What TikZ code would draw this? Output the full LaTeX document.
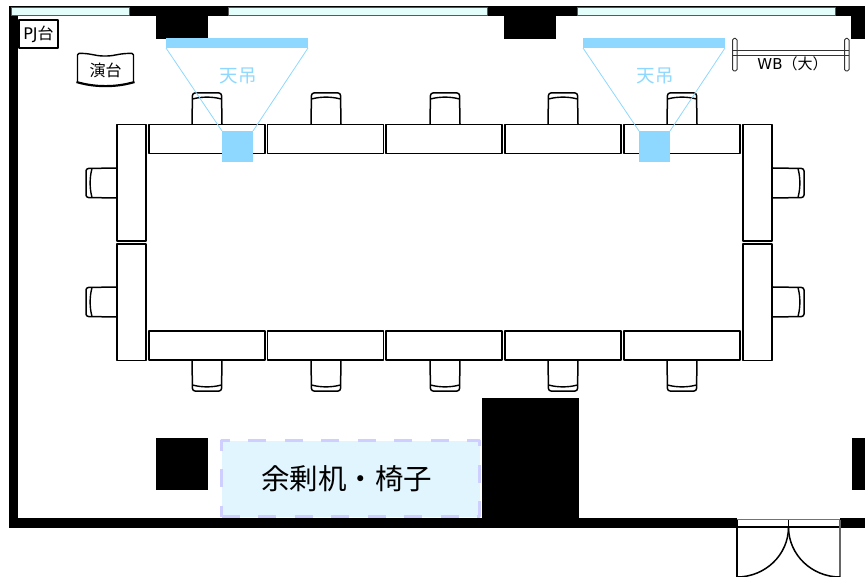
\documentclass[tikz,border=0pt]{standalone}
\usepackage{fontspec}
\setmainfont{DejaVu Sans}
\newfontfamily\cjk{Noto Sans CJK JP}
\definecolor{pjblue}{HTML}{8ED8FF}
\definecolor{glass}{HTML}{E4FFFB}
\definecolor{sparefill}{HTML}{E1F5FE}
\definecolor{sparedash}{HTML}{CFCFFF}

\begin{document}
\begin{tikzpicture}[x=1pt, y=-1pt, line join=round,
  wall/.style = {fill=black, draw=none},
  glasspane/.style = {fill=glass, draw=black!65, line width=0.8pt},
  desk/.style = {draw, fill=white, line width=1.5pt},
  beam/.style = {fill=pjblue, draw=none},
  pjlabel/.style = {text=pjblue, font=\cjk\fontsize{18.5}{18.5}\selectfont},
  chair/.pic = {
    \draw[fill=white, line width=1.5pt, rounded corners=2.5pt]
      (-15,0) -- (-14.5,-31) -- (14.5,-31) -- (15,0);
    \draw[line width=1.4pt] (-14.5,-25) .. controls (-5,-27.5) and (5,-27.5) .. (14.5,-25);
  }]
  \useasboundingbox (0,0) rectangle (865,577);

  % walls and columns
  \fill[wall] (9,6) rectangle (865,16);
  \fill[wall] (9,6) rectangle (18,528);
  \fill[wall] (9,518) rectangle (737,528);
  \fill[wall] (840,518) rectangle (865,528);
  \fill[wall] (482,398) rectangle (579,528);
  \foreach \x/\w in {156/52, 504/52, 851/14}
    \fill[wall] (\x,16) rectangle ++(\w,23);
  \foreach \x/\w in {156/52, 852/13}
    \fill[wall] (\x,438) rectangle ++(\w,52);
  \foreach \x/\w in {11/118, 228/259, 577/258}
    \draw[glasspane] (\x,7.5) rectangle ++(\w,7.5);

  % doors
  \draw[black!55, line width=1pt] (737,519.5) -- (840,519.5);
  \draw[line width=1.3pt] (737,527) -- (840,527);
  \draw[line width=1.3pt] (737,577) -- (737,520) (788.5,520) -- (788.5,527);
  \draw[black!60, line width=1.3pt] (840,520) -- (840,577);
  \draw[line width=1.5pt] (737,577) .. controls (765,577) and (788.5,555) .. (788.5,527);
  \draw[line width=1.5pt] (840,577) .. controls (812,577) and (788.5,555) .. (788.5,527);

  % chairs
  \foreach \x in {207, 326, 445, 563, 682} {
    \pic at (\x,124) {chair};
    \pic[rotate=180] at (\x,360) {chair};
  }
  \foreach \y in {183, 302} {
    \pic[rotate=90] at (117,\y) {chair};
    \pic[rotate=-90] at (773,\y) {chair};
  }

  % desks
  \foreach \x in {149, 267.5, 386, 505, 624} {
    \draw[desk] (\x,124.5) rectangle ++(116,29);
    \draw[desk] (\x,331) rectangle ++(116,29);
  }
  \foreach \x in {117, 743} {
    \draw[desk] (\x,124.5) rectangle ++(29,116.5);
    \draw[desk] (\x,244) rectangle ++(29,116.5);
  }

  % projectors
  \foreach \x/\n in {166/l, 583/r} {
    \fill[beam] (\x,38) rectangle ++(142,10);
    \fill[beam] (\x+56,131) rectangle ++(31,31);
    \draw[pjblue, line width=0.8pt] (\x,48) -- (\x+56,131) (\x+142,48) -- (\x+87,131);
    \node[pjlabel] (ceil\n) at (\x+72,76) {天吊};
  }

  % lectern and stand
  \node[draw, fill=white, line width=1.3pt, inner sep=0pt, minimum width=39pt, minimum height=28pt,
    font=\fontsize{16}{16}\selectfont] (pjstand) at (38.5,34) {PJ{\cjk 台}};
  \draw[line width=1.4pt, rounded corners=1.5pt] (77.5,81) -- (77.5,53.5)
    .. controls (90,53) and (95,56) .. (105,56) .. controls (115,56) and (120,53) .. (133.5,53.5) -- (133.5,81);
  \draw[line width=2.2pt] (76.5,82) .. controls (95,87.5) and (116,87.5) .. (134.5,82);
  \node[font=\cjk\fontsize{16}{16}\selectfont] (lectern) at (105.5,70.5) {演台};

  % whiteboard
  \foreach \x in {732.5, 844.5}
    \draw[black!80, line width=1pt, rounded corners=1.5pt] (\x,38.5) rectangle ++(4.5,32.5);
  \draw[black!80, line width=1pt] (732,50.5) -- (849,50.5) (732,55.5) -- (849,55.5);
  \node[inner sep=0pt, font=\fontsize{15}{15}\selectfont] (wboard) at (792.5,63.5) {WB{\cjk （大）}};

  % spare area
  \node[fill=sparefill, draw=sparedash, line width=2.5pt, dash pattern=on 18pt off 18.5pt,
    minimum width=258pt, minimum height=76pt, inner sep=0pt] (spare) at (350.5,478.5) {};
  \node[font=\cjk\fontsize{28.5}{28.5}\selectfont] (sparetext) at (346.5,478.5) {余剰机・椅子};
\end{tikzpicture}
\end{document}
